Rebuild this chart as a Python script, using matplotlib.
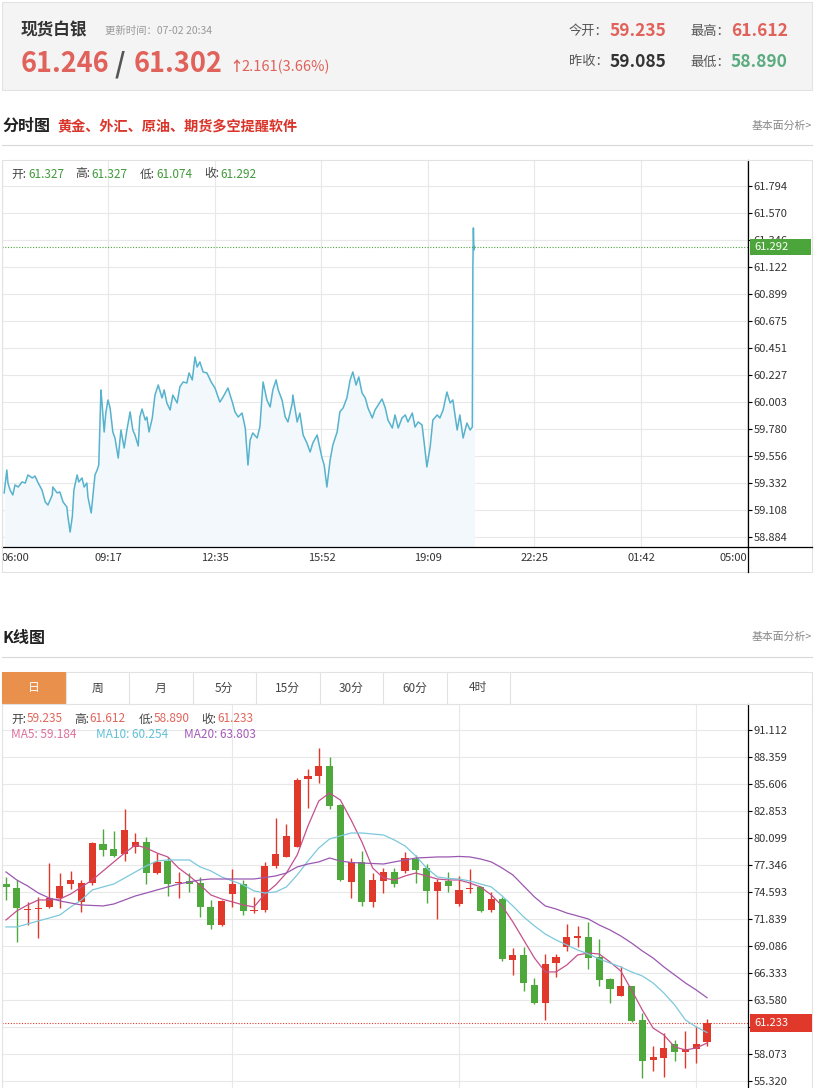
import matplotlib
matplotlib.use("Agg")
import matplotlib.pyplot as plt
from matplotlib.patches import Rectangle
from matplotlib.lines import Line2D

plt.rcParams['font.family'] = ['Noto Sans CJK SC', 'DejaVu Sans']

W, H = 834, 1088

# ---- quote header ----
quote_name = "现货白银"
update_time = "07-02 20:34"
bid, ask = "61.246", "61.302"
change_txt = "2.161(3.66%)"
today_open, prev_close = "59.235", "59.085"
day_high, day_low = "61.612", "58.890"

# ---- intraday (minutes after 06:00) ----
time_ticks = [0, 197, 394, 591, 788, 985, 1182, 1379]
time_labels = ["06:00", "09:17", "12:35", "15:52", "19:09", "22:25", "01:42", "05:00"]
intra_yticks = [58.884, 59.108, 59.332, 59.556, 59.780, 60.003, 60.227,
                60.451, 60.675, 60.899, 61.122, 61.346, 61.570, 61.794]
intra_ohlc = ["61.327", "61.327", "61.074", "61.292"]
intra_last = 61.292

intra_minutes = [
    4, 9, 11, 15, 20, 24, 30, 37, 43, 48,
    56, 61, 67, 74, 80, 85, 93, 94, 102, 107,
    113, 120, 122, 126, 130, 133, 139, 142, 148, 152,
    157, 159, 165, 168, 172, 176, 179, 183, 185, 189,
    192, 196, 200, 205, 209, 215, 220, 226, 231, 237,
    242, 246, 252, 255, 259, 265, 268, 272, 278, 283,
    289, 296, 300, 305, 311, 316, 324, 329, 335, 342,
    346, 352, 357, 361, 366, 372, 379, 387, 394, 403,
    409, 418, 426,
    431, 437, 444, 450, 455, 459, 464, 472, 477, 483,
    490, 496, 501, 507, 511, 518, 524, 529, 537, 538,
    546, 551, 557, 564, 570, 575, 583, 586, 592, 596,
    601, 607, 612, 620, 625, 631, 638, 644, 649, 655,
    660, 666, 672, 677, 685, 690, 696, 703, 709, 714,
    722, 727, 733, 740, 746, 751, 759, 764, 770, 777,
    781, 786, 792, 797, 805, 810, 816, 823, 829, 834,
    842, 847, 853, 860, 866, 870,
    871, 872, 873, 874]

intra_prices = [
    59.251, 59.441, 59.333, 59.275, 59.234, 59.317, 59.300, 59.342, 59.333, 59.400,
    59.375, 59.391, 59.333, 59.275, 59.176, 59.151, 59.234, 59.300, 59.251, 59.259,
    59.176, 59.134, 59.052, 58.927, 59.052, 59.275, 59.400, 59.342, 59.375, 59.300,
    59.333, 59.217, 59.085, 59.217, 59.400, 59.441, 59.482, 60.104, 59.996, 59.756,
    59.913, 60.021, 59.955, 59.756, 59.706, 59.540, 59.772, 59.623, 59.772, 59.922,
    59.772, 59.731, 59.640, 59.880, 59.946, 59.855, 59.880, 59.756, 59.872, 60.062,
    60.145, 60.038, 60.104, 59.996, 59.938, 60.062, 59.996, 60.129, 60.170, 60.162,
    60.245, 60.187, 60.377, 60.294, 60.336, 60.253, 60.245, 60.170, 60.120, 60.004,
    60.046, 60.120, 60.004,
    59.922, 59.880, 59.913, 59.789, 59.482, 59.690, 59.748, 59.706, 59.797, 60.170,
    60.021, 59.963, 60.104, 60.187, 60.104, 60.021, 59.880, 59.839, 59.996, 60.062,
    59.839, 59.913, 59.731, 59.665, 59.590, 59.665, 59.731, 59.665, 59.540, 59.482,
    59.300, 59.524, 59.648, 59.756, 59.922, 59.955, 60.038, 60.187, 60.253, 60.145,
    60.212, 60.079, 60.038, 59.955, 59.872, 59.938, 59.980, 60.029, 59.955, 59.855,
    59.789, 59.897, 59.789, 59.872, 59.897, 59.839, 59.913, 59.797, 59.839, 59.814,
    59.665, 59.466, 59.632, 59.855, 59.897, 59.872, 59.938, 60.087, 59.996, 60.021,
    59.772, 59.897, 59.706, 59.830, 59.772, 59.797,
    61.115, 61.446, 61.264, 61.292]

# ---- daily K line ----
tab_names = ["日", "周", "月", "5分", "15分", "30分", "60分", "4时"]
k_ohlc_txt = ["59.235", "61.612", "58.890", "61.233"]
ma_txt = ["59.184", "60.254", "63.803"]
k_last = 61.233
k_yticks = [55.320, 58.073, 60.826, 63.580, 66.333, 69.086, 71.839,
            74.593, 77.346, 80.099, 82.853, 85.606, 88.359, 91.112]
month_starts = [21, 42, 64]

k_open = [75.40, 75.00, 72.72, 72.80, 73.06, 73.97, 75.40, 73.57, 75.50, 79.48,
          78.97, 78.46, 79.18, 79.69, 76.52, 77.75, 75.50, 75.71, 75.50, 73.06,
          71.22, 74.38, 75.40, 72.60, 72.75, 77.24, 78.16, 79.18, 86.11, 86.42,
          87.44, 83.46, 75.60, 77.65, 73.57, 75.71, 76.63, 76.73, 77.95, 77.03,
          74.69, 75.71, 73.36, 74.89, 75.10, 72.75, 73.87, 67.65, 68.16, 65.10,
          63.26, 67.34, 68.98, 69.90, 70.00, 67.96, 65.71, 63.97, 64.99, 61.53,
          57.44, 57.65, 59.08, 58.26, 58.57, 59.235]
k_high = [76.12, 75.81, 73.57, 74.08, 77.54, 76.52, 76.73, 75.81, 79.69, 81.01,
          80.81, 83.05, 80.60, 80.20, 78.56, 78.16, 76.63, 76.52, 76.12, 73.77,
          73.77, 76.93, 75.81, 74.08, 77.65, 82.13, 81.52, 86.21, 87.13, 89.28,
          88.36, 83.56, 78.06, 78.77, 76.52, 77.03, 77.03, 78.67, 78.36, 77.44,
          75.91, 76.63, 76.22, 76.93, 75.20, 74.59, 74.08, 68.87, 68.98, 65.81,
          68.26, 68.26, 71.32, 71.12, 71.53, 69.79, 65.81, 67.04, 64.99, 62.24,
          58.87, 60.20, 59.49, 60.40, 60.91, 61.612]
k_low = [73.77, 69.49, 71.22, 69.89, 72.95, 72.95, 74.89, 72.55, 75.30, 78.26,
         78.16, 77.75, 78.56, 75.40, 76.42, 74.18, 73.97, 74.59, 72.04, 70.81,
         71.12, 73.06, 72.24, 72.44, 72.55, 77.03, 78.16, 79.18, 83.15, 85.70,
         83.05, 75.71, 73.97, 73.16, 73.06, 74.48, 75.10, 76.52, 75.50, 73.46,
         71.84, 74.59, 73.16, 74.48, 72.55, 72.55, 67.55, 66.12, 64.48, 63.16,
         61.53, 65.92, 68.57, 68.98, 66.73, 64.99, 63.26, 63.97, 61.32, 55.61,
         56.33, 55.71, 57.35, 56.63, 57.14, 58.890]
k_close = [75.10, 72.95, 72.83, 72.96, 73.97, 75.20, 75.81, 75.50, 79.58, 78.87,
           78.26, 80.91, 79.69, 76.52, 77.65, 75.40, 75.60, 75.40, 73.06, 71.22,
           73.67, 75.40, 72.65, 72.70, 77.24, 78.46, 80.30, 86.01, 86.42, 87.44,
           83.36, 75.81, 77.65, 73.57, 75.81, 76.63, 75.40, 78.06, 76.83, 74.69,
           75.60, 75.20, 74.79, 75.00, 72.65, 73.87, 67.75, 68.16, 65.30, 63.26,
           67.24, 67.96, 70.00, 70.00, 67.85, 65.61, 64.69, 64.99, 61.42, 57.34,
           57.75, 58.67, 58.26, 58.57, 59.08, 61.233]

ma5 = [71.73, 72.65, 73.26, 73.77, 73.77, 73.87, 74.38, 75.10, 75.81, 76.73,
       77.65, 78.56, 79.38, 79.07, 78.56, 78.16, 77.03, 76.22, 75.30, 74.28,
       73.87, 73.57, 73.26, 73.06, 74.38, 75.30, 76.52, 78.36, 81.32, 83.87,
       84.68, 83.97, 81.93, 79.69, 77.03, 76.01, 75.81, 76.22, 76.52, 76.22,
       75.91, 75.81, 75.81, 75.50, 75.10, 74.28, 73.16, 71.53, 69.69, 67.85,
       66.43, 66.43, 67.14, 68.16, 68.36, 68.26, 67.45, 66.53, 64.59, 62.55,
       60.71, 60.00, 58.78, 58.47, 58.67, 59.18]
ma10 = [71.02, 71.02, 71.32, 71.63, 71.93, 72.24, 73.06, 73.77, 74.79, 75.10,
        75.40, 76.01, 76.63, 77.24, 77.75, 77.85, 77.85, 77.85, 77.14, 76.73,
        76.12, 75.71, 75.30, 74.69, 74.48, 74.59, 75.10, 76.32, 77.75, 79.07,
        79.99, 80.30, 80.60, 80.60, 80.50, 80.40, 79.89, 79.28, 78.26, 77.03,
        76.12, 75.96, 75.91, 75.71, 75.40, 75.10, 74.18, 73.16, 72.04, 71.12,
        70.30, 69.69, 69.18, 68.67, 68.26, 67.75, 67.34, 66.94, 66.43, 66.02,
        65.30, 64.28, 63.06, 61.53, 60.82, 60.25]
ma20 = [76.63, 75.81, 75.20, 74.48, 73.97, 73.67, 73.46, 73.26, 73.21, 73.16,
        73.36, 73.77, 74.18, 74.48, 74.79, 75.10, 75.40, 75.61, 75.81, 75.91,
        75.91, 75.91, 75.91, 75.91, 76.06, 76.22, 76.52, 77.14, 77.44, 77.65,
        78.05, 77.75, 77.59, 77.54, 77.49, 77.44, 77.65, 77.85, 78.05, 78.10,
        78.16, 78.16, 78.21, 78.16, 77.95, 77.65, 77.03, 76.32, 75.20, 74.08,
        73.16, 72.85, 72.44, 72.14, 71.83, 71.22, 70.71, 70.10, 69.38, 68.57,
        67.85, 66.94, 66.12, 65.30, 64.59, 63.80]

RED = "#e0392b"
GREEN = "#4ea83c"
QUOTE_RED = "#e0625a"
GRID = "#e8e8e8"
BORDER = "#e2e2e2"

fig = plt.figure(figsize=(W / 100, H / 100), dpi=100)
fig.patch.set_facecolor("white")


# helpers working in page pixels (y down)
def px_axes(x0, y0, x1, y1):
    return fig.add_axes([x0 / W, 1 - y1 / H, (x1 - x0) / W, (y1 - y0) / H])


def text(x, y, s, size, color="#333333", weight="normal", ha="left"):
    fig.text(x / W, 1 - y / H, s, fontsize=size, color=color,
             fontweight=weight, ha=ha, va="center", zorder=5)


def line(x0, y0, x1, y1, color, lw=0.8, **kw):
    fig.add_artist(Line2D([x0 / W, x1 / W], [1 - y0 / H, 1 - y1 / H],
                          color=color, lw=lw, **kw))


def rect(x0, y0, x1, y1, fc, ec="none", lw=0.8, z=1):
    fig.add_artist(Rectangle((x0 / W, 1 - y1 / H), (x1 - x0) / W, (y1 - y0) / H,
                             fc=fc, ec=ec, lw=lw, zorder=z))


# ---------------- header box ----------------
rect(2, 2, 812, 90, "#f4f4f4", BORDER)
text(21, 30, quote_name, 12, "#333333", "bold")
text(105, 31, "更新时间：" + update_time, 7.5, "#999999")
text(21, 64, bid, 19.5, QUOTE_RED, "bold")
text(115, 64, "/", 19.5, "#555555", "bold")
text(134, 64, ask, 19.5, QUOTE_RED, "bold")
text(229, 67, "↑", 10, QUOTE_RED, "bold")
text(241, 67, change_txt, 10.5, QUOTE_RED)

text(569, 31, "今开：", 9.5, "#555555")
text(610, 31, today_open, 12.5, QUOTE_RED, "bold")
text(690, 31, "最高：", 9.5, "#555555")
text(731, 31, day_high, 12.5, QUOTE_RED, "bold")
text(569, 62, "昨收：", 9.5, "#555555")
text(610, 62, prev_close, 12.5, "#333333", "bold")
text(690, 62, "最低：", 9.5, "#555555")
text(731, 62, day_low, 12.5, "#5aab7f", "bold")

# ---------------- intraday section ----------------
text(2, 126, "分时图", 11.5, "#222222", "bold")
text(57, 126, "黄金、外汇、原油、期货多空提醒软件", 10.2, "#d9352a", "bold")
text(812, 126, "基本面分析>", 7.8, "#888888", ha="right")
line(2, 145, 812, 145, "#d8d8d8")

rect(2, 160, 812, 572, "none", BORDER)
ax1 = px_axes(2, 160, 748, 547)
y_lo, y_hi = 58.803, 62.009
ax1.set_xlim(0, 1380)
ax1.set_ylim(y_lo, y_hi)
ax1.fill_between(intra_minutes, intra_prices, y_lo, color="#f2f8fc", lw=0)
ax1.plot(intra_minutes, intra_prices, color="#57b3cd", lw=1.1)
ax1.axhline(intra_last, color="#4ca53a", lw=0.8, ls=(0, (1, 1.5)))

ax1.set_yticks(intra_yticks)
ax1.set_yticklabels([f"{v:.3f}" for v in intra_yticks])
ax1.yaxis.tick_right()
ax1.tick_params(axis="y", direction="out", length=3, width=0.8, color="black",
                labelsize=8, labelcolor="#333333", pad=1)
ax1.set_xticks(time_ticks)
labs = ax1.set_xticklabels(time_labels)
labs[0].set_ha("left")
labs[-1].set_ha("right")
ax1.tick_params(axis="x", length=0, labelsize=8, labelcolor="#333333", pad=4)
ax1.grid(color=GRID, lw=0.8)
ax1.set_axisbelow(True)
for s in ("top", "left"):
    ax1.spines[s].set_visible(False)
for s in ("bottom", "right"):
    ax1.spines[s].set_color("black")
    ax1.spines[s].set_linewidth(0.9)
line(748, 547, 812, 547, "black", 0.9)
line(748, 547, 748, 572, "black", 0.9)

# open/high/low/close legend
for lx, lab, vx, val in zip([11, 75, 140, 204], ["开:", "高:", "低:", "收:"],
                            [28, 91, 156, 220], intra_ohlc):
    text(lx, 174, lab, 8.5, "#444444")
    text(vx, 174, val, 8.5, "#3f9a3a")

rect(750, 239, 811, 255, "#4ca53a", z=4)
text(754, 247, f"{intra_last:.3f}", 8, "white")

# ---------------- K line section ----------------
text(2, 638, "K线图", 11.5, "#222222", "bold")
text(812, 637, "基本面分析>", 7.8, "#888888", ha="right")
line(2, 657, 812, 657, "#d8d8d8")

rect(2, 672, 812, 1092, "none", BORDER)
tab_w = 63.5
rect(2, 672, 2 + tab_w, 704, "#e8904c", z=2)
for i, name in enumerate(tab_names):
    x0 = 2 + i * tab_w
    line(x0 + tab_w, 672, x0 + tab_w, 704, BORDER)
    text(x0 + tab_w / 2, 688, name, 8.5, "white" if i == 0 else "#444444", ha="center")
line(2, 704, 812, 704, BORDER)

ax2 = px_axes(2, 704, 748, 1088)
ax2.set_xlim(-0.37, 68.8)
ax2.set_ylim(54.59, 93.76)
idx = list(range(len(k_close)))
cols = [RED if c >= o else GREEN for o, c in zip(k_open, k_close)]
ax2.vlines(idx, k_low, k_high, colors=cols, lw=1.0, zorder=3)
bodies = [max(abs(c - o), 0.15) for o, c in zip(k_open, k_close)]
bottoms = [min(o, c) for o, c in zip(k_open, k_close)]
ax2.bar(idx, bodies, bottom=bottoms, width=0.66, color=cols, lw=0, zorder=4)
ax2.plot(idx, ma5, color="#c4508c", lw=0.9, zorder=5)
ax2.plot(idx, ma10, color="#7cc8dc", lw=0.9, zorder=5)
ax2.plot(idx, ma20, color="#9a58b0", lw=0.9, zorder=5)
ax2.axhline(k_last, color=RED, lw=0.8, ls=(0, (1, 1.5)), zorder=2)

ax2.set_yticks(k_yticks)
ax2.set_yticklabels([f"{v:.3f}" for v in k_yticks])
ax2.yaxis.tick_right()
ax2.tick_params(axis="y", direction="out", length=3, width=0.8, color="black",
                labelsize=8, labelcolor="#333333", pad=1)
ax2.set_xticks(month_starts)
ax2.set_xticklabels([])
ax2.tick_params(axis="x", length=0)
ax2.grid(color=GRID, lw=0.8)
ax2.set_axisbelow(True)
for s in ("top", "left", "bottom"):
    ax2.spines[s].set_visible(False)
ax2.spines["right"].set_color("black")
ax2.spines["right"].set_linewidth(0.9)

for lx, lab, vx, val in zip([11, 74, 139, 201], ["开:", "高:", "低:", "收:"],
                            [27, 89, 154, 217], k_ohlc_txt):
    text(lx, 719, lab, 8.5, "#444444")
    text(vx, 719, val, 8.5, "#e0645a")
text(11, 735, "MA5: " + ma_txt[0], 8.5, "#de6e9c")
text(96, 735, "MA10: " + ma_txt[1], 8.5, "#5fc0d6")
text(184, 735, "MA20: " + ma_txt[2], 8.5, "#a35bb8")

rect(750, 1014, 812, 1032, RED, z=4)
text(754, 1023, f"{k_last:.3f}", 8, "white")

fig.savefig("out.png", dpi=100)
